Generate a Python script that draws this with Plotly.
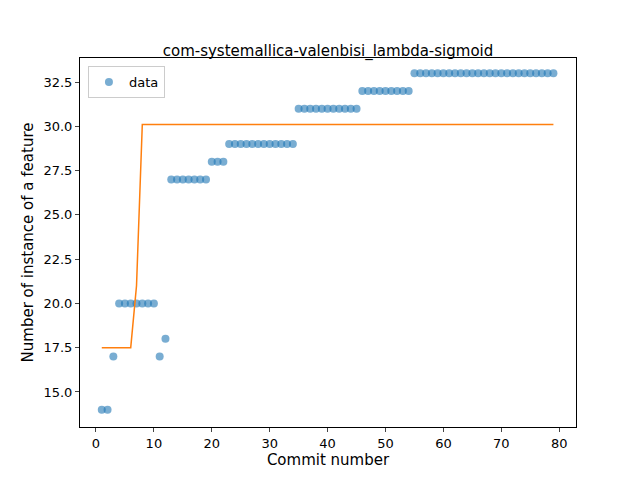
import plotly.graph_objects as go

commits = list(range(1, 80))
counts = ([14, 14, 17] + [20] * 7 + [17, 18] + [27] * 7 + [28] * 3 + [29] * 12
          + [31] * 11 + [32] * 9 + [33] * 25)
fit = [17.5] * 6 + [21.0] + [30.1] * 72

fig = go.Figure()
fig.add_trace(go.Scatter(x=commits, y=counts, mode="markers", name="data",
                         marker=dict(color="rgba(31,119,180,0.6)", size=8)))
fig.add_trace(go.Scatter(x=commits, y=fit, mode="lines", showlegend=False,
                         line=dict(color="#ff7f0e", width=1.5)))

axis = dict(showgrid=False, zeroline=False, showline=True, mirror=True,
            linecolor="black", linewidth=1, ticks="outside", ticklen=4,
            tickfont=dict(size=13, color="black"))
fig.update_layout(
    width=640, height=480, plot_bgcolor="white", paper_bgcolor="white",
    font=dict(family="DejaVu Sans", color="black"),
    margin=dict(l=72, r=72, t=50, b=61),
    title=dict(text="com-systemallica-valenbisi_lambda-sigmoid", x=0.5, y=0.91,
               xanchor="center", yanchor="middle", font=dict(size=15)),
    xaxis=dict(axis, range=[-2.76, 82.9], tickvals=list(range(0, 81, 10)),
               title=dict(text="Commit number", font=dict(size=15), standoff=4)),
    yaxis=dict(axis, range=[13.02, 33.86], tickvals=[15 + 2.5 * i for i in range(8)],
               tickformat=".1f",
               title=dict(text="Number of instance of a feature", font=dict(size=15), standoff=6)),
    legend=dict(x=0.016, y=0.978, xanchor="left", yanchor="top",
                bordercolor="#cccccc", borderwidth=1, font=dict(size=13)),
)
fig.write_html("out.html")
